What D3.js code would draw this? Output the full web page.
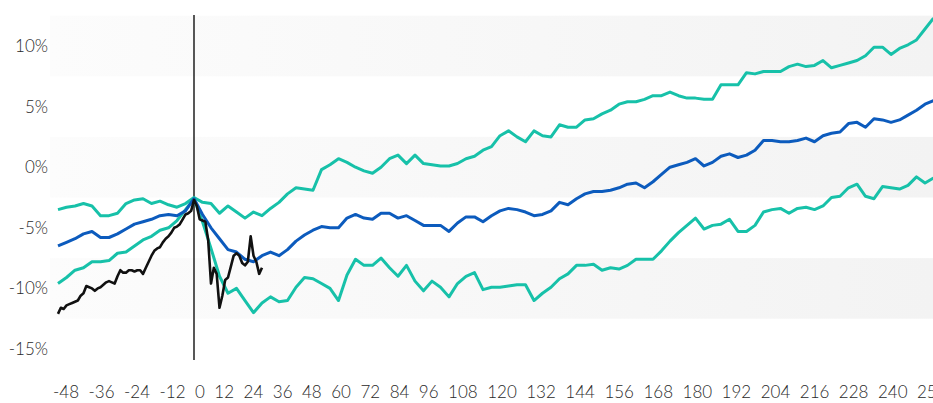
<!DOCTYPE html>
<html>
<head>
<meta charset="utf-8">
<script src="https://cdn.jsdelivr.net/npm/d3@7"></script>
<style>
  body { margin: 0; background: #fff; }
  svg text { font-family: Lato, "Open Sans", sans-serif; font-weight: 300; fill: #2a2a2a; }
</style>
</head>
<body>
<div class="chart"></div>
<script>
let width = 933;
let height = 403;

// months since the event, one point every 3 months for the projection fan
let fanMonths = d3.range(-48, 262, 3);

let upperBand = [-3.5, -3.3, -3.2, -3.0, -3.2, -4.0, -4.0, -3.8, -3.0, -2.7, -2.6, -3.0, -2.8, -3.1, -3.3, -3.0, -2.5,
  -2.9, -3.0, -3.8, -3.2, -3.7, -4.2, -3.7, -4.0, -3.4, -2.9, -2.2, -1.7, -1.8, -1.9, -0.2, 0.2, 0.7, 0.4, 0.0, -0.3,
  -0.5, 0.0, 0.7, 1.0, 0.3, 1.0, 0.3, 0.2, 0.1, 0.1, 0.3, 0.7, 0.9, 1.4, 1.7, 2.6, 3.0, 2.5, 2.1, 3.0, 2.6, 2.5, 3.5,
  3.3, 3.3, 3.9, 4.0, 4.4, 4.7, 5.2, 5.4, 5.4, 5.6, 5.9, 5.9, 6.2, 5.9, 5.7, 5.7, 5.6, 5.6, 6.8, 6.8, 6.8, 7.8, 7.7,
  7.9, 7.9, 7.9, 8.3, 8.5, 8.3, 8.4, 8.8, 8.2, 8.4, 8.6, 8.8, 9.2, 9.9, 9.9, 9.3, 9.8, 10.1, 10.5, 11.4, 12.3];

let median = [-6.5, -6.2, -5.9, -5.5, -5.3, -5.8, -5.8, -5.5, -5.1, -4.7, -4.5, -4.3, -4.0, -3.9, -4.0, -3.6, -2.6,
  -3.9, -5.0, -5.9, -6.8, -7.0, -7.6, -7.8, -7.3, -7.0, -7.3, -6.8, -6.1, -5.6, -5.2, -4.9, -5.0, -5.0, -4.2, -3.9,
  -4.2, -4.3, -3.8, -3.8, -4.2, -4.0, -4.4, -4.8, -4.8, -4.8, -5.3, -4.6, -4.1, -4.1, -4.5, -4.0, -3.6, -3.4, -3.5,
  -3.7, -4.0, -3.9, -3.6, -2.9, -3.1, -2.6, -2.2, -2.0, -2.0, -1.9, -1.7, -1.4, -1.3, -1.7, -1.2, -0.6, 0.0, 0.2, 0.4,
  0.7, 0.1, 0.4, 0.9, 1.1, 0.8, 1.0, 1.4, 2.2, 2.2, 2.1, 2.1, 2.2, 2.4, 2.1, 2.6, 2.8, 2.9, 3.6, 3.7, 3.3, 4.0, 3.9,
  3.7, 3.9, 4.3, 4.7, 5.2, 5.5];

let lowerBand = [-9.6, -9.1, -8.5, -8.3, -7.8, -7.8, -7.7, -7.1, -7.0, -6.5, -6.0, -5.7, -5.2, -5.0, -4.4, -3.5, -2.6,
  -4.5, -6.7, -9.0, -10.4, -10.0, -11.0, -12.0, -11.2, -10.7, -11.1, -11.0, -9.9, -9.1, -9.2, -9.6, -10.0, -11.0,
  -8.9, -7.6, -8.1, -8.1, -7.5, -8.3, -9.0, -8.1, -9.4, -10.2, -9.4, -9.9, -10.7, -9.6, -9.0, -8.7, -10.1, -9.9, -9.9,
  -9.8, -9.7, -9.7, -11.0, -10.4, -9.9, -9.2, -8.8, -8.1, -8.1, -8.0, -8.5, -8.3, -8.4, -8.1, -7.6, -7.6, -7.6, -6.9,
  -6.1, -5.4, -4.8, -4.2, -5.1, -4.8, -4.7, -4.3, -5.3, -5.3, -4.8, -3.7, -3.5, -3.4, -3.8, -3.4, -3.3, -3.5, -3.2,
  -2.5, -2.4, -1.7, -1.4, -2.4, -2.6, -1.6, -1.7, -1.8, -1.5, -0.8, -1.3, -0.9];

// actual path, monthly
let actualMonths = d3.range(-48, 25);
let actual = [-12.1, -11.6, -11.7, -11.4, -11.3, -11.2, -11.1, -11.0, -10.6, -10.4, -9.8, -9.9, -10.0, -10.2, -10.0,
  -9.9, -9.7, -9.5, -9.4, -9.5, -9.6, -9.0, -8.5, -8.7, -8.7, -8.5, -8.5, -8.6, -8.5, -8.5, -8.8, -8.3, -7.8, -7.3,
  -6.9, -6.7, -6.6, -6.2, -5.9, -5.7, -5.4, -5.0, -4.9, -4.7, -4.3, -3.9, -3.8, -3.6, -2.7,
  -3.2, -4.3, -4.4, -4.5, -6.0, -9.6, -8.3, -8.8, -11.6, -10.6, -9.3, -9.1, -8.2, -7.3, -7.1, -7.3, -7.9, -8.1, -7.8,
  -5.7, -7.3, -7.8, -8.8, -8.3];

let yTicks = [10, 5, 0, -5, -10, -15];
let xTickLabels = ['-48', '-36', '-24', '-12', '0', '12', '24', '36', '48', '60', '72', '84', '96', '108', '120',
  '132', '144', '156', '168', '180', '192', '204', '216', '228', '240', '252'];
let bandCentres = [10, 0, -10];

let svg = d3.select('.chart')
  .append('svg')
  .attr('width', width)
  .attr('height', height);

let xScale = d3.scaleLinear().domain([-48, 261]).range([58, 933.5]);
let yScale = d3.scaleLinear().domain([-15, 10]).range([349, 46]);

let grad = svg.append('defs').append('linearGradient')
  .attr('id', 'bandFill')
  .attr('x1', '0%').attr('x2', '100%');
grad.append('stop').attr('offset', '0%').attr('stop-color', '#fcfcfc');
grad.append('stop').attr('offset', '100%').attr('stop-color', '#f3f3f3');

svg.selectAll('.band')
  .data(bandCentres)
  .enter()
  .append('rect')
  .attr('class', 'band')
  .attr('x', 50)
  .attr('width', width - 50)
  .attr('y', d => yScale(d + 2.5))
  .attr('height', d => yScale(d - 2.5) - yScale(d + 2.5))
  .attr('fill', 'url(#bandFill)');

// y labels
svg.selectAll('.ylabel')
  .data(yTicks)
  .enter()
  .append('text')
  .attr('class', 'ylabel')
  .attr('x', 48)
  .attr('y', d => yScale(d))
  .attr('dy', '0.35em')
  .attr('text-anchor', 'end')
  .style('font-size', '17px')
  .text(d => d + '%');

// x labels flow one after another like a line of text
let xLab = svg.append('g').attr('class', 'xlabels');
let labs = xLab.selectAll('text')
  .data(xTickLabels)
  .enter()
  .append('text')
  .attr('y', 398)
  .style('font-size', '17px')
  .text(d => d);
let widths = [];
labs.each(function () { widths.push(this.getComputedTextLength()); });
let startX = 53, lastStart = 917;
let gap = (lastStart - startX - d3.sum(widths.slice(0, widths.length - 1))) / (widths.length - 1);
let cursor = startX;
labs.attr('x', (d, i) => {
  let p = cursor;
  cursor += widths[i] + gap;
  return p;
});

// event line
svg.append('line')
  .attr('x1', xScale(0)).attr('x2', xScale(0))
  .attr('y1', 15).attr('y2', 360)
  .attr('stroke', '#111')
  .attr('stroke-width', 1.4);

let line = d3.line()
  .x(d => xScale(d[0]))
  .y(d => yScale(d[1]));

let teal = '#17c1a9';
let blue = '#0c5bbd';

let series = [
  { values: upperBand, months: fanMonths, color: teal, w: 3 },
  { values: lowerBand, months: fanMonths, color: teal, w: 3 },
  { values: median, months: fanMonths, color: blue, w: 3 },
  { values: actual, months: actualMonths, color: '#111', w: 2.6 }
];

series.forEach(s => {
  let pts = s.values.map((v, i) => [s.months[i], v]).filter(p => p[0] !== undefined);
  svg.append('path')
    .datum(pts)
    .attr('d', line)
    .attr('fill', 'none')
    .attr('stroke', s.color)
    .attr('stroke-width', s.w)
    .attr('stroke-linejoin', 'round');
});
</script>
</body>
</html>
